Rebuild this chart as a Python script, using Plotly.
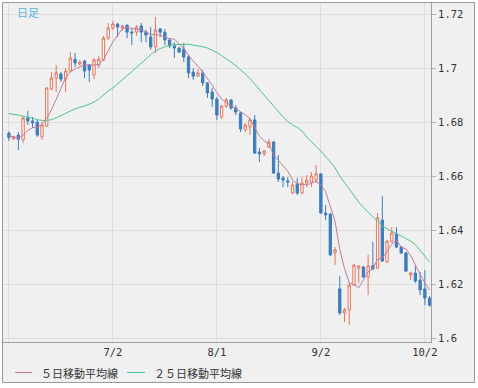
import pandas as pd
import plotly.graph_objects as go

# trading days (GBP/USD daily), 2014-06-02 .. 2014-10-03
dates = [d.strftime("%Y-%m-%d") for d in pd.bdate_range("2014-06-02", periods=90)]

opens = [1.6760, 1.6738, 1.6753, 1.6735, 1.6816, 1.6805, 1.6801, 1.6746, 1.6786, 1.6923,
         1.6964, 1.6979, 1.6960, 1.6990, 1.7034, 1.7016, 1.7027, 1.7012, 1.6975, 1.7012,
         1.7031, 1.7112, 1.7149, 1.7164, 1.7149, 1.7160, 1.7134, 1.7134, 1.7157, 1.7134,
         1.7116, 1.7079, 1.7146, 1.7134, 1.7105, 1.7083, 1.7075, 1.7071, 1.7042, 1.6986,
         1.6971, 1.6983, 1.6946, 1.6912, 1.6886, 1.6820, 1.6860, 1.6883, 1.6853, 1.6834,
         1.6772, 1.6783, 1.6809, 1.6690, 1.6683, 1.6708, 1.6727, 1.6612, 1.6594, 1.6583,
         1.6538, 1.6572, 1.6538, 1.6575, 1.6579, 1.6586, 1.6609, 1.6464, 1.6460, 1.6316,
         1.6183, 1.6094, 1.6105, 1.6197, 1.6260, 1.6264, 1.6227, 1.6268, 1.6260, 1.6438,
         1.6283, 1.6360, 1.6386, 1.6338, 1.6316, 1.6234, 1.6242, 1.6216, 1.6183, 1.6149]
highs = [1.6766, 1.6750, 1.6764, 1.6823, 1.6842, 1.6820, 1.6809, 1.6801, 1.6930, 1.6986,
         1.7012, 1.6986, 1.7001, 1.7060, 1.7057, 1.7031, 1.7031, 1.7016, 1.7038, 1.7045,
         1.7120, 1.7168, 1.7175, 1.7168, 1.7160, 1.7162, 1.7149, 1.7160, 1.7168, 1.7142,
         1.7153, 1.7190, 1.7149, 1.7146, 1.7112, 1.7097, 1.7079, 1.7094, 1.7049, 1.7001,
         1.6997, 1.6994, 1.6949, 1.6927, 1.6894, 1.6864, 1.6890, 1.6885, 1.6864, 1.6838,
         1.6797, 1.6816, 1.6827, 1.6705, 1.6697, 1.6738, 1.6731, 1.6679, 1.6601, 1.6597,
         1.6579, 1.6594, 1.6597, 1.6605, 1.6616, 1.6642, 1.6612, 1.6494, 1.6464, 1.6338,
         1.6231, 1.6112, 1.6205, 1.6275, 1.6271, 1.6268, 1.6309, 1.6357, 1.6464, 1.6527,
         1.6364, 1.6412, 1.6412, 1.6342, 1.6320, 1.6246, 1.6271, 1.6246, 1.6253, 1.6157]
lows = [1.6731, 1.6735, 1.6697, 1.6723, 1.6790, 1.6779, 1.6746, 1.6735, 1.6782, 1.6920,
        1.6912, 1.6949, 1.6912, 1.6986, 1.7005, 1.7009, 1.6964, 1.6949, 1.6960, 1.7001,
        1.7027, 1.7105, 1.7142, 1.7116, 1.7138, 1.7112, 1.7086, 1.7120, 1.7097, 1.7097,
        1.7068, 1.7057, 1.7116, 1.7086, 1.7075, 1.7038, 1.7057, 1.7023, 1.6964, 1.6957,
        1.6968, 1.6934, 1.6890, 1.6857, 1.6809, 1.6812, 1.6853, 1.6846, 1.6827, 1.6764,
        1.6764, 1.6753, 1.6683, 1.6653, 1.6675, 1.6705, 1.6609, 1.6579, 1.6560, 1.6560,
        1.6534, 1.6531, 1.6534, 1.6560, 1.6560, 1.6575, 1.6462, 1.6438, 1.6305, 1.6271,
        1.6086, 1.6060, 1.6049, 1.6194, 1.6205, 1.6223, 1.6160, 1.6253, 1.6257, 1.6283,
        1.6279, 1.6353, 1.6334, 1.6312, 1.6246, 1.6216, 1.6205, 1.6160, 1.6123, 1.6116]
closes = [1.6744, 1.6746, 1.6737, 1.6816, 1.6805, 1.6798, 1.6753, 1.6790, 1.6927, 1.6964,
          1.6983, 1.6960, 1.6990, 1.7038, 1.7020, 1.7023, 1.6990, 1.6994, 1.7031, 1.7034,
          1.7112, 1.7149, 1.7164, 1.7153, 1.7157, 1.7134, 1.7131, 1.7153, 1.7134, 1.7123,
          1.7079, 1.7142, 1.7134, 1.7105, 1.7083, 1.7075, 1.7060, 1.7042, 1.6983, 1.6971,
          1.6983, 1.6946, 1.6909, 1.6886, 1.6827, 1.6860, 1.6883, 1.6853, 1.6838, 1.6775,
          1.6790, 1.6809, 1.6686, 1.6683, 1.6694, 1.6727, 1.6612, 1.6590, 1.6586, 1.6579,
          1.6568, 1.6538, 1.6575, 1.6586, 1.6601, 1.6609, 1.6464, 1.6457, 1.6309, 1.6327,
          1.6094, 1.6105, 1.6197, 1.6271, 1.6268, 1.6227, 1.6268, 1.6257, 1.6446, 1.6286,
          1.6360, 1.6390, 1.6338, 1.6316, 1.6249, 1.6242, 1.6212, 1.6179, 1.6149, 1.6123]

ma5 = [1.6750, 1.6745, 1.6742, 1.6752, 1.6770, 1.6780, 1.6782, 1.6792, 1.6815, 1.6846,
       1.6883, 1.6925, 1.6965, 1.6987, 1.6998, 1.7006, 1.7012, 1.7013, 1.7012, 1.7014,
       1.7032, 1.7064, 1.7098, 1.7122, 1.7147, 1.7151, 1.7148, 1.7146, 1.7142, 1.7135,
       1.7124, 1.7126, 1.7122, 1.7117, 1.7109, 1.7108, 1.7091, 1.7073, 1.7049, 1.7026,
       1.7008, 1.6985, 1.6958, 1.6939, 1.6910, 1.6886, 1.6873, 1.6862, 1.6852, 1.6842,
       1.6828, 1.6813, 1.6780, 1.6749, 1.6732, 1.6720, 1.6680, 1.6661, 1.6642, 1.6619,
       1.6587, 1.6572, 1.6569, 1.6569, 1.6574, 1.6582, 1.6567, 1.6543, 1.6488, 1.6433,
       1.6330, 1.6258, 1.6206, 1.6199, 1.6187, 1.6214, 1.6246, 1.6258, 1.6293, 1.6297,
       1.6323, 1.6348, 1.6364, 1.6338, 1.6331, 1.6307, 1.6271, 1.6235, 1.6205, 1.6179]

ma25 = [1.6832, 1.6830, 1.6827, 1.6823, 1.6820, 1.6815, 1.6810, 1.6807, 1.6807, 1.6810,
        1.6816, 1.6823, 1.6833, 1.6842, 1.6849, 1.6856, 1.6860, 1.6867, 1.6875, 1.6886,
        1.6901, 1.6916, 1.6927, 1.6942, 1.6959, 1.6973, 1.6988, 1.7005, 1.7020, 1.7034,
        1.7051, 1.7064, 1.7073, 1.7081, 1.7086, 1.7088, 1.7089, 1.7089, 1.7089, 1.7086,
        1.7084, 1.7080, 1.7075, 1.7068, 1.7059, 1.7047, 1.7036, 1.7023, 1.7010, 1.6996,
        1.6979, 1.6962, 1.6942, 1.6921, 1.6899, 1.6879, 1.6859, 1.6838, 1.6820, 1.6803,
        1.6790, 1.6781, 1.6768, 1.6746, 1.6727, 1.6710, 1.6694, 1.6675, 1.6653, 1.6631,
        1.6601, 1.6577, 1.6553, 1.6525, 1.6505, 1.6484, 1.6468, 1.6451, 1.6434, 1.6416,
        1.6405, 1.6396, 1.6388, 1.6379, 1.6370, 1.6360, 1.6347, 1.6327, 1.6305, 1.6283]

y_ticks = [1.60, 1.62, 1.64, 1.66, 1.68, 1.70, 1.72]
y_labels = ["1.6", "1.62", "1.64", "1.66", "1.68", "1.7", "1.72"]
x_tick_idx = [0, 22, 44, 66, 88]
x_labels = ["", "7/2", "8/1", "9/2", "10/2"]
title_text = "日足"
legend_ma5 = "５日移動平均線"
legend_ma25 = "２５日移動平均線"

UP = "#e2775e"
DOWN = "#3d7dbd"
C5 = "#c47a9c"
C25 = "#4cc68c"

W, H = 478, 388
L, R, T, B = 3, 47, 3, 46
PW, PH = W - L - R, H - T - B


def px(x):
    return (x - L) / PW


def py(y):
    return (H - B - y) / PH


fig = go.Figure()
fig.add_trace(go.Candlestick(
    x=dates, open=opens, high=highs, low=lows, close=closes,
    increasing=dict(line=dict(color=UP, width=1), fillcolor="#fff6f2"),
    decreasing=dict(line=dict(color=DOWN, width=1), fillcolor=DOWN),
    whiskerwidth=0, showlegend=False, hoverinfo="skip"))
fig.add_trace(go.Scatter(x=dates, y=ma25, mode="lines",
                         line=dict(color=C25, width=1), showlegend=False, hoverinfo="skip"))
fig.add_trace(go.Scatter(x=dates, y=ma5, mode="lines",
                         line=dict(color=C5, width=1), showlegend=False, hoverinfo="skip"))

shapes = [
    dict(type="rect", xref="paper", yref="paper", layer="below",
         x0=px(2.5), x1=px(474.5), y0=py(382.5), y1=py(2.5),
         fillcolor="#f0f0f0", line=dict(color="#9a9a9a", width=1)),
    dict(type="line", xref="paper", yref="paper", x0=px(15), x1=px(32),
         y0=py(372.5), y1=py(372.5), line=dict(color=C5, width=1)),
    dict(type="line", xref="paper", yref="paper", x0=px(127), x1=px(145),
         y0=py(372.5), y1=py(372.5), line=dict(color=C25, width=1)),
]

annotations = [
    dict(text=title_text, xref="paper", yref="paper", x=px(15), y=py(12), xanchor="left",
         yanchor="middle", showarrow=False,
         font=dict(family="Noto Sans CJK JP", size=11, color="#55b3e3")),
    dict(text=legend_ma5, xref="paper", yref="paper", x=px(39), y=py(372.5), xanchor="left",
         yanchor="middle", showarrow=False,
         font=dict(family="Noto Sans CJK JP", size=11, color="#333333")),
    dict(text=legend_ma25, xref="paper", yref="paper", x=px(152), y=py(372.5), xanchor="left",
         yanchor="middle", showarrow=False,
         font=dict(family="Noto Sans CJK JP", size=11, color="#333333")),
]

fig.update_layout(
    width=W, height=H,
    margin=dict(l=L, r=R, t=T, b=B, pad=0),
    paper_bgcolor="white", plot_bgcolor="white",
    shapes=shapes, annotations=annotations,
    showlegend=False,
    font=dict(family="DejaVu Sans Mono", size=10.5, color="#333333"),
    xaxis=dict(type="category", range=[-1.25, 89.3], rangeslider=dict(visible=False),
               tickmode="array", tickvals=[dates[i] for i in x_tick_idx], ticktext=x_labels,
               showgrid=True, gridcolor="#dddddd", gridwidth=1, ticks="",
               showline=True, linecolor="#a0a0a0", linewidth=1, zeroline=False,
               tickfont=dict(family="DejaVu Sans Mono", size=10.5, color="#333333")),
    yaxis=dict(side="right", range=[1.59863, 1.72419], tickmode="array",
               tickvals=y_ticks, ticktext=y_labels,
               showgrid=True, gridcolor="#dddddd", gridwidth=1,
               ticks="outside", ticklen=4, tickcolor="#b0b0b0",
               showline=True, linecolor="#a0a0a0", linewidth=1, zeroline=False,
               tickfont=dict(family="DejaVu Sans Mono", size=10.5, color="#333333")),
)

fig.write_html("out.html")
